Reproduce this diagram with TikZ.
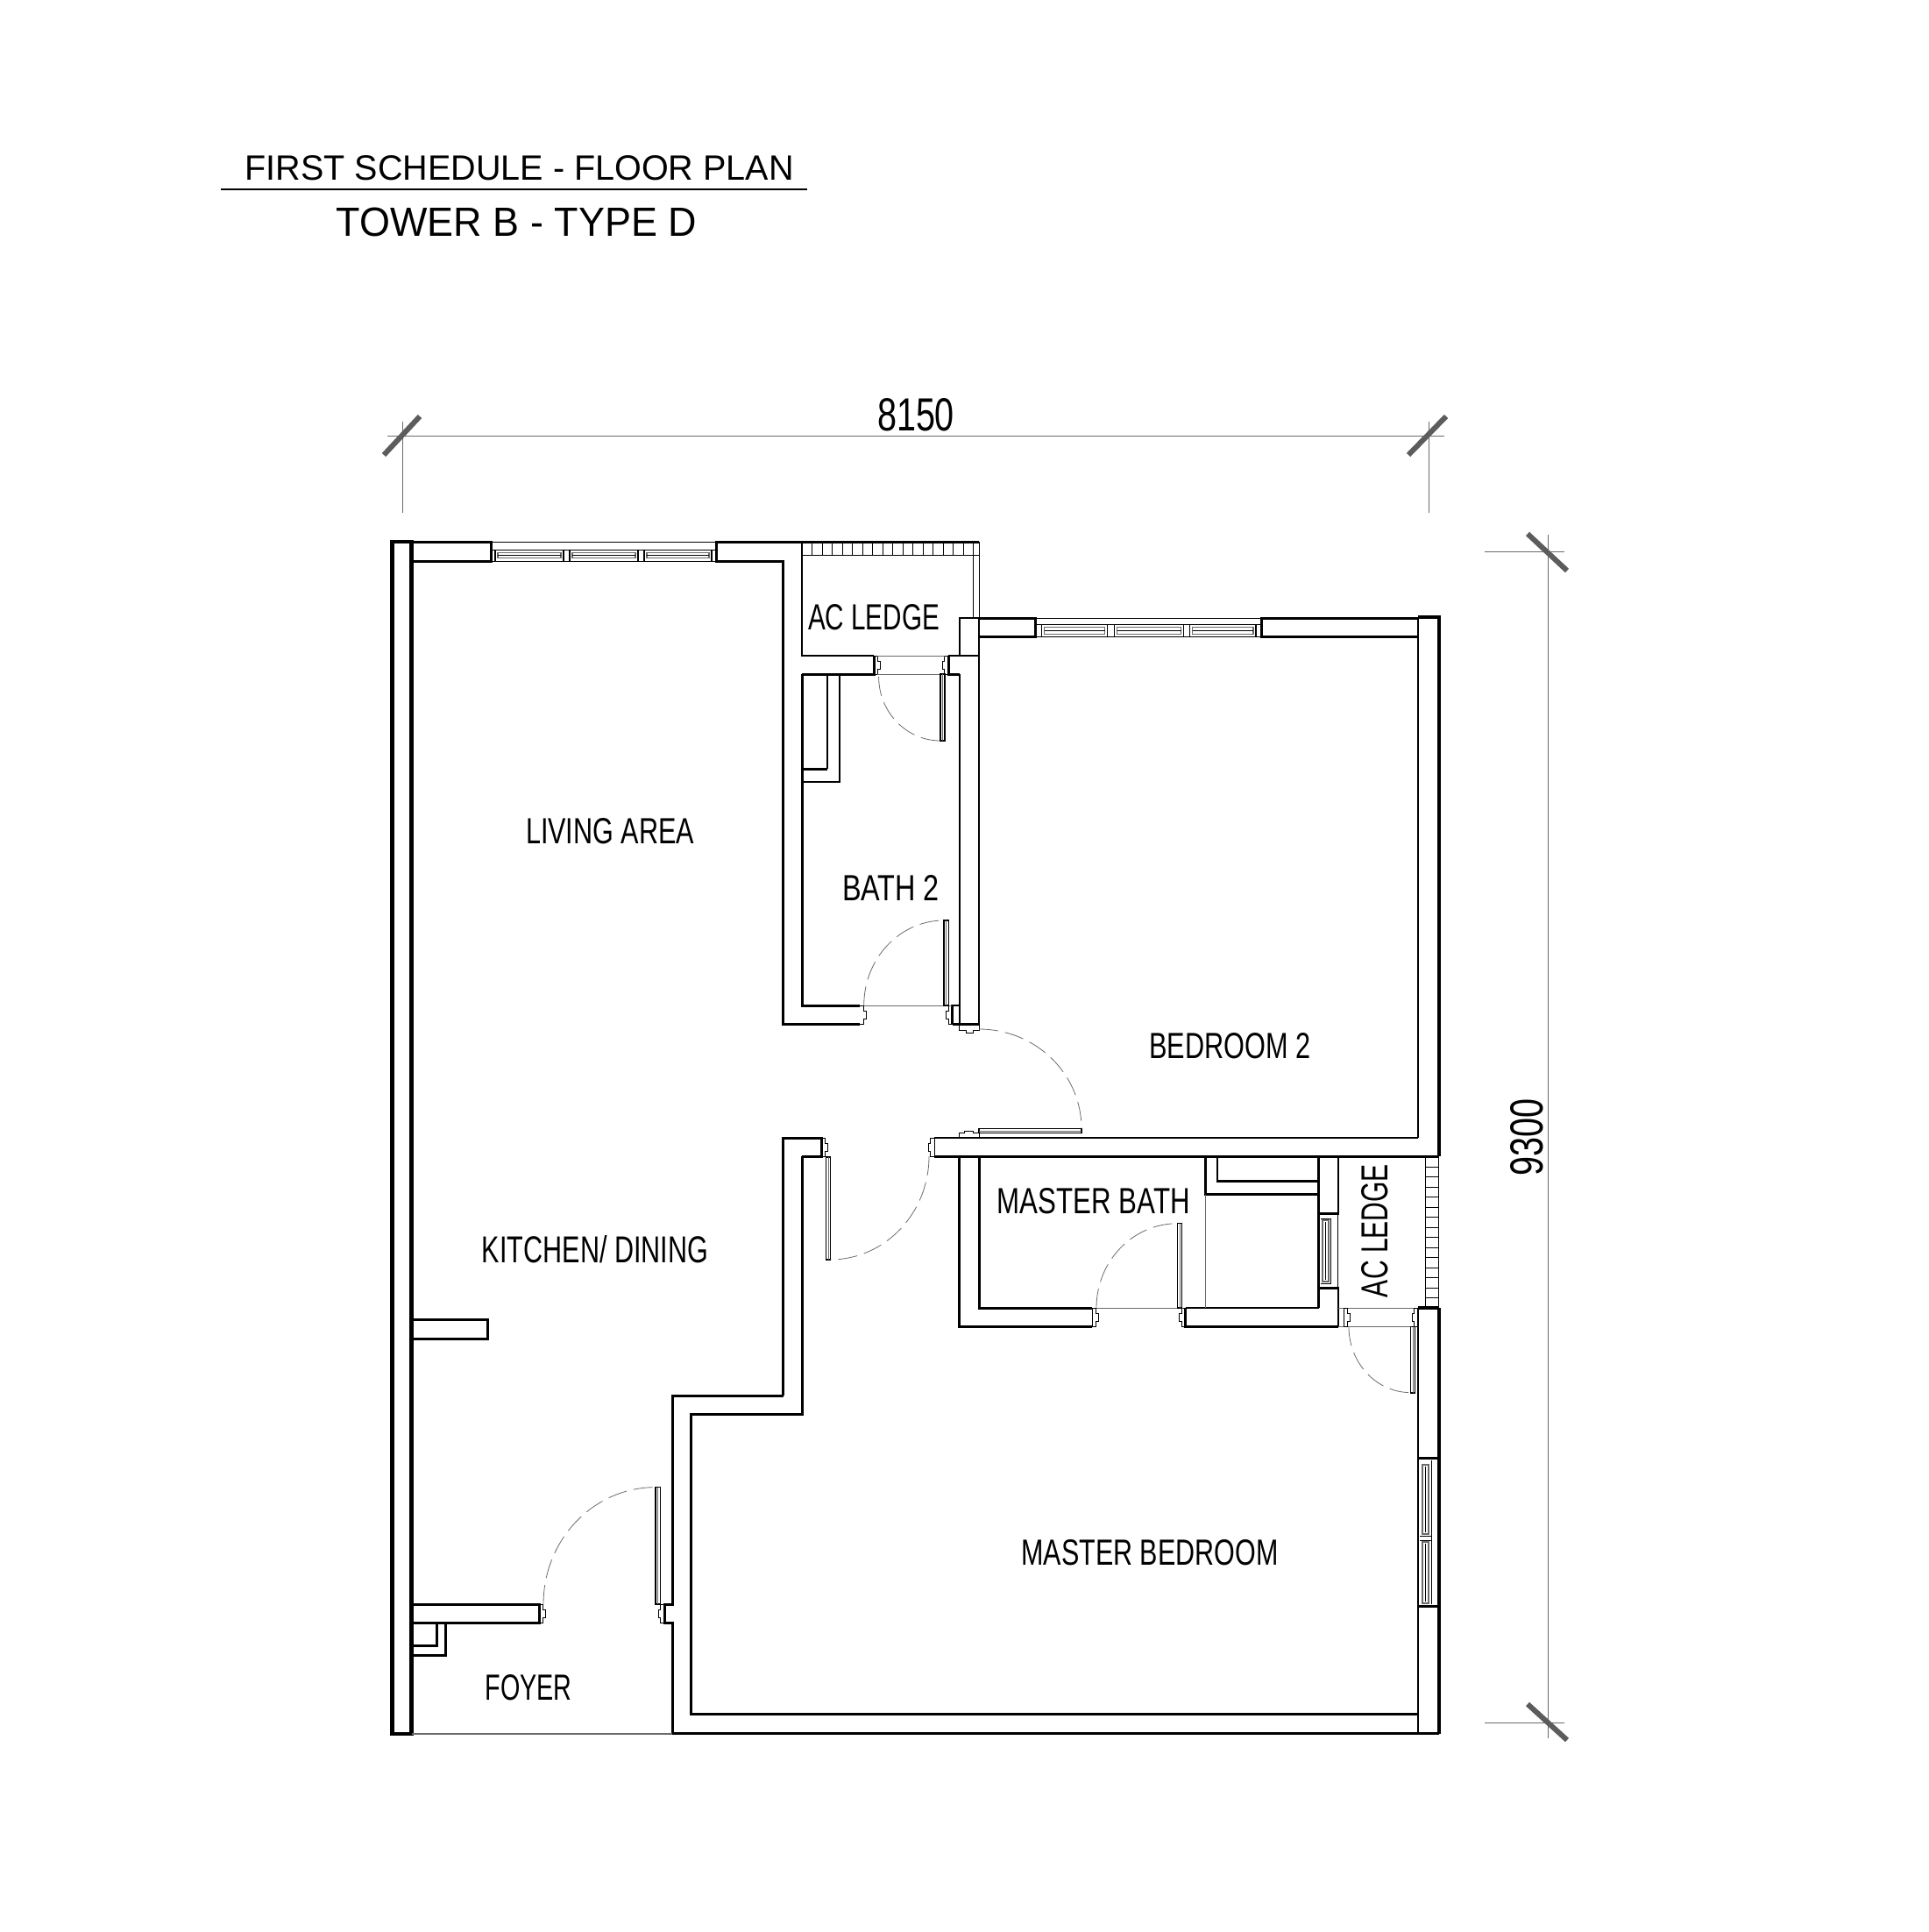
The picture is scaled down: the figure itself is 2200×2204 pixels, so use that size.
\documentclass[tikz,border=0pt]{standalone}
\usepackage{graphicx}
\usepackage{fontspec}
\setmainfont{Liberation Sans}
\usetikzlibrary{calc}
\definecolor{dimgray}{gray}{0.42}
\definecolor{tickgray}{gray}{0.36}
\tikzset{
  wallA/.style={line width=1.5pt,black,line join=miter},
  wallB/.style={line width=2.1pt,black,line join=miter},
  wallC/.style={line width=1.15pt,black,line join=miter},
  fine/.style={line width=0.5pt,black},
  hair/.style={line width=0.35pt,dimgray},
  swing/.style={line width=0.4pt,dimgray,dash pattern=on 11pt off 4pt},
  dimline/.style={line width=0.45pt,dimgray},
  tickline/.style={line width=3pt,tickgray},
  txt/.style={inner sep=0pt,outer sep=0pt,anchor=center}
}
\newcommand{\lbl}[7][0]{\node[txt,rotate=#1] (#2) at (#3,#4) {\resizebox{\dimexpr #5pt/2\relax}{\dimexpr #6pt/2\relax}{#7}};}
% quarter swing: start, corner, end
\newcommand{\swingarc}[6]{\coordinate (qa) at (#1,#2);\coordinate (qc) at (#3,#4);\coordinate (qb) at (#5,#6);
  \draw[swing] (qa) .. controls ($(qa)!0.552!(qc)$) and ($(qb)!0.552!(qc)$) .. (qb);}
% one horizontal pane between mullions
\newcommand{\hglaze}[4]{\draw[fine,line width=0.6pt] (#1,#3) -- (#1,#4);\draw[fine,line width=0.6pt] (#2,#3) -- (#2,#4);
  \draw[hair,line width=0.6pt] ({#1+3},{#3+3.5}) rectangle ({#2-3},{#4-3.5});
  \draw[fine,line width=0.4pt] ({#1+3},{(#3+#4)/2}) -- ({#2-3},{(#3+#4)/2});}
\newcommand{\vpane}[4]{\draw[hair,line width=0.6pt] (#1,#3) rectangle (#2,#4);
  \draw[fine,line width=0.35pt] ({(#1+#2)/2},{#3+2}) -- ({(#1+#2)/2},{#4-2});}
% door leaf
\newcommand{\vleaf}[4]{\draw[fine,line width=0.7pt] (#1,#3) rectangle (#2,#4);\draw[hair] ({(#1+#2)/2},#3) -- ({(#1+#2)/2},#4);}
\newcommand{\hleaf}[4]{\draw[fine,line width=0.7pt] (#1,#3) rectangle (#2,#4);\draw[hair] (#1,{(#3+#4)/2}) -- (#2,{(#3+#4)/2});}
% jambs
\newcommand{\jambR}[3]{\draw[fine] (#1,#2) -- ({#1+4.5},#2) -- ({#1+4.5},{#2+6}) -- ({#1+7},{#2+6}) -- ({#1+7},{#3-6}) -- ({#1+4.5},{#3-6}) -- ({#1+4.5},#3) -- (#1,#3);}
\newcommand{\jambL}[3]{\draw[fine] (#1,#2) -- ({#1-4.5},#2) -- ({#1-4.5},{#2+6}) -- ({#1-7},{#2+6}) -- ({#1-7},{#3-6}) -- ({#1-4.5},{#3-6}) -- ({#1-4.5},#3) -- (#1,#3);}
\begin{document}
\begin{tikzpicture}[x=0.5pt,y=-0.5pt]
\useasboundingbox (0,0) rectangle (2200,2204);
% title
\lbl{titleA}{592.7}{192}{626}{28}{FIRST SCHEDULE - FLOOR PLAN}
\lbl{titleB}{589.5}{253}{411}{32.5}{TOWER B - TYPE D}
\coordinate (ruleL) at (252,216);\coordinate (ruleR) at (921,216);
\draw[line width=0.55pt] (ruleL) -- (ruleR);
% dimensions
\coordinate (dA) at (442,497);\coordinate (dB) at (1648,497);
\draw[dimline] (dA) -- (dB);
\draw[dimline] (459.6,481) -- (459.6,585);
\draw[dimline] (1630,481) -- (1630,585);
\draw[tickline] (479,475) -- (438,519);
\draw[tickline] (1650,475) -- (1607,519);
\lbl{dimW}{1045}{473.5}{88}{37}{8150}
\coordinate (dC) at (1766,610);\coordinate (dD) at (1766,1983);
\draw[dimline] (dC) -- (dD);
\draw[dimline] (1694,629) -- (1785,629);
\draw[dimline] (1694,1965) -- (1785,1965);
\draw[tickline] (1743,609) -- (1788,651);
\draw[tickline] (1743,1944) -- (1788,1985);
\lbl[90]{dimH}{1742.5}{1297}{88}{37}{9300}
% outer left wall
\draw[wallB] (447.5,618) rectangle (469.5,1978);
% top wall of living
\draw[wallA] (469.5,618) -- (560.6,618) -- (560.6,640) -- (469.5,640);
\draw[wallA] (1117,618) -- (817.5,618) -- (817.5,640) -- (893.7,640) -- (893.7,1168.6) -- (981,1168.6);
\draw[fine] (560.6,618) rectangle (817.5,640);
\draw[fine] (560.6,627) -- (817.5,627);
\hglaze{565}{643}{627}{640}
\hglaze{650}{728}{627}{640}
\hglaze{735}{812}{627}{640}
% AC ledge 1
\draw[wallC] (915,618) -- (915,748) -- (997,748);
\draw[wallA] (915,769) -- (915,1147) -- (981,1147);
\draw[wallA] (915,769) -- (997,769) -- (997,748);
\draw[fine] (915,633) -- (1117,633);
\foreach \x in {926,938,949,961,972,984,995,1007,1018,1030,1041,1053,1064,1076,1087,1099,1110} {\draw[fine,line width=0.4pt] (\x,618) -- (\x,633);}
\draw[fine] (1110,633) -- (1110,705);
\draw[fine] (1117,618) -- (1117,705);
\draw[wallC] (1094.7,748) -- (1094.7,705) -- (1117,705);
\draw[wallC] (1082,748) -- (1117,748);
\draw[wallA] (1082,748) -- (1082,769) -- (1094.7,769);
\draw[wallC] (1094.7,769) -- (1094.7,1168.6);
\draw[wallA] (1094.7,1168.6) -- (1117,1168.6);
\draw[wallC] (1117,705) -- (1117,1168.6);
\draw[wallC] (1086.5,1168.6) -- (1086.5,1147) -- (1094.7,1147);
\draw[wallC] (1086.5,1168.6) -- (1094.7,1168.6);
% bath 2 cupboard
\draw[wallC] (944,769) -- (944,877);
\draw[wallA] (915,877) -- (944,877);
\draw[wallC] (958,769) -- (958,892) -- (915,892);
% AC door & bath 2 door
\jambR{997}{748}{769}
\jambL{1082}{748}{769}
\draw[hair] (1001,748) -- (1078,748);
\draw[hair] (1001,769) -- (1078,769);
\vleaf{1073}{1078}{769}{845}
\swingarc{1002.6}{772}{1002.6}{845}{1073}{845}
\jambR{981}{1147}{1168.6}
\jambL{1086.5}{1147}{1168.6}
\draw[hair] (985.7,1147) -- (1086,1147);
\vleaf{1077}{1082.6}{1050}{1147}
\swingarc{985.7}{1147}{985.7}{1050}{1077}{1050}
% bedroom 2 top
\draw[wallA] (1117,726.7) -- (1181,726.7) -- (1181,705) -- (1117,705);
\draw[wallA] (1618,705) -- (1439.5,705) -- (1439.5,726.7) -- (1618,726.7);
\draw[fine] (1181,705) rectangle (1439.5,726.7);
\draw[fine] (1181,712.3) -- (1439.5,712.3);
\hglaze{1188.5}{1263.5}{712.3}{726.7}
\hglaze{1271.5}{1350.5}{712.3}{726.7}
\hglaze{1357.5}{1433}{712.3}{726.7}
% right wall
\draw[wallB] (1618,704) -- (1642,704) -- (1642,1319);
\draw[wallC] (1618,705) -- (1618,1298);
% wall between bedrooms
\draw[wallC] (1066,1298) -- (1618,1298);
\draw[wallA] (1066,1319) -- (1642,1319);
\draw[fine] (1066,1298) -- (1066,1319);
\jambL{1066}{1298}{1319}
% door bedroom 2
\draw[fine] (1094.7,1168.6) -- (1094.7,1175) -- (1102,1175) -- (1102,1178) -- (1110,1178) -- (1110,1175) -- (1117,1175) -- (1117,1168.6);
\draw[fine] (1094.7,1298) -- (1094.7,1292) -- (1100,1292) -- (1100,1290) -- (1110,1290) -- (1110,1292) -- (1117,1292) -- (1117,1298);
\hleaf{1117}{1234}{1287.5}{1292.5}
\swingarc{1117}{1174}{1234}{1174}{1234}{1287.5}
% door kitchen to corridor
\vleaf{942.7}{947.3}{1320}{1437}
\swingarc{1060}{1319}{1060}{1437}{947.3}{1437}
% master bath
\draw[wallA] (1094.6,1319) -- (1094.6,1513.6) -- (1246.4,1513.6);
\draw[wallA] (1117,1319) -- (1117,1492) -- (1246.4,1492);
\draw[fine] (1246.4,1492) -- (1246.4,1513.6);
\jambR{1246.4}{1492}{1513.6}
\draw[wallA] (1352.7,1492) -- (1352.7,1513.6) -- (1526.8,1513.6);
\draw[wallC] (1352.7,1492) -- (1504.5,1492);
\jambL{1352.7}{1492}{1513.6}
\draw[hair] (1251,1492) -- (1350,1492);
\vleaf{1343.7}{1348.2}{1395.7}{1492}
\swingarc{1251}{1492}{1251}{1395.7}{1343.7}{1395.7}
\draw[wallC] (1375.4,1319) -- (1375.4,1362.5) -- (1504.5,1362.5);
\draw[wallC] (1388.8,1319) -- (1388.8,1347.5) -- (1504.5,1347.5);
\draw[hair,line width=0.45pt] (1375.4,1362.5) -- (1375.4,1492);
\draw[wallC] (1504.5,1319) -- (1504.5,1492);
\draw[wallC] (1526.8,1319) -- (1526.8,1384);
\draw[wallC] (1526.8,1469.6) -- (1526.8,1513.6);
\draw[fine] (1526.8,1384) -- (1526.8,1469.6);
\draw[wallA] (1504.5,1384) -- (1528,1384);
\draw[wallA] (1504.5,1469.6) -- (1528,1469.6);
\draw[fine,line width=0.4pt] (1507,1390) -- (1518,1390) -- (1518,1464) -- (1507,1464);
\vpane{1509}{1516}{1392}{1462}
% AC ledge 2
\draw[fine] (1626.3,1319) -- (1626.3,1492);
\draw[fine] (1641.5,1319) -- (1641.5,1492);
\foreach \y in {1331,1342.5,1354,1365.5,1377,1388.5,1400,1411.5,1423,1434.5,1446,1457.5,1469,1480.5} {\draw[fine,line width=0.4pt] (1626.3,\y) -- (1641.5,\y);}
\draw[wallB] (1618,1492) -- (1642,1492);
\draw[wallC] (1618,1492) -- (1618,1978);
\draw[wallB] (1642,1492) -- (1642,1978);
\draw[hair] (1526.8,1492) -- (1618,1492);
\draw[hair] (1526.8,1513.6) -- (1618,1513.6);
\jambR{1533}{1492}{1513.6}
\draw[fine] (1533,1492) -- (1533,1513.6);
\jambL{1618}{1492}{1513.6}
\vleaf{1609.4}{1614.7}{1513.6}{1589}
\swingarc{1539}{1513.6}{1539}{1588.6}{1609.4}{1588.6}
% master bedroom window
\draw[wallA] (1618,1663.6) -- (1642,1663.6);
\draw[wallA] (1618,1832.7) -- (1642,1832.7);
\draw[fine] (1633,1666) -- (1633,1830);
\draw[fine,line width=0.35pt] (1620,1752) -- (1633,1752);
\draw[fine,line width=0.35pt] (1620,1757) -- (1633,1757);
\vpane{1623}{1630}{1671}{1750}
\vpane{1623}{1630}{1759}{1829}
% kitchen wall and master bedroom
\draw[wallA] (893.7,1592) -- (893.7,1298) -- (937.3,1298) -- (937.3,1319.3) -- (915,1319.3);
\jambR{937.3}{1298}{1319.3}
\draw[wallA] (915,1319.3) -- (915,1613.8) -- (788.3,1613.8) -- (788.3,1955.9) -- (1618,1955.9);
\draw[wallA] (893.7,1592) -- (767,1592) -- (767,1830) -- (758,1830) -- (758,1851) -- (767,1851) -- (767,1977.6) -- (1642,1977.6);
\draw[hair,line width=0.6pt] (469.5,1978) -- (767,1978);
% stub
\draw[wallA] (469.5,1505.9) -- (556,1505.9) -- (556,1527) -- (469.5,1527);
% foyer wall
\draw[wallA] (469.5,1830) -- (615,1830) -- (615,1851) -- (469.5,1851);
\jambR{615}{1830}{1851}
\draw[wallA] (498,1851) -- (498,1877) -- (469.5,1877);
\draw[wallA] (508.7,1851) -- (508.7,1888) -- (469.5,1888);
% foyer door
\jambL{758}{1830}{1851}
\vleaf{748}{753.3}{1696.6}{1830}
\swingarc{620}{1830}{620}{1696.6}{748}{1696.6}
% labels
\lbl{living}{696}{948.5}{192}{29}{LIVING AREA}
\lbl{acA}{997}{704}{150}{29}{AC LEDGE}
\lbl{bathB}{1016.5}{1013}{111}{29}{BATH 2}
\lbl{bedB}{1403.5}{1193}{184}{29}{BEDROOM 2}
\lbl{mbath}{1247.7}{1370.5}{220}{29}{MASTER BATH}
\lbl[90]{acB}{1568.8}{1404}{152}{30}{AC LEDGE}
\lbl{kitchen}{679}{1425}{258}{31}{KITCHEN/ DINING}
\lbl{mbed}{1312}{1771}{293}{29}{MASTER BEDROOM}
\lbl{foyer}{603}{1925.5}{99}{29}{FOYER}
\end{tikzpicture}
\end{document}
